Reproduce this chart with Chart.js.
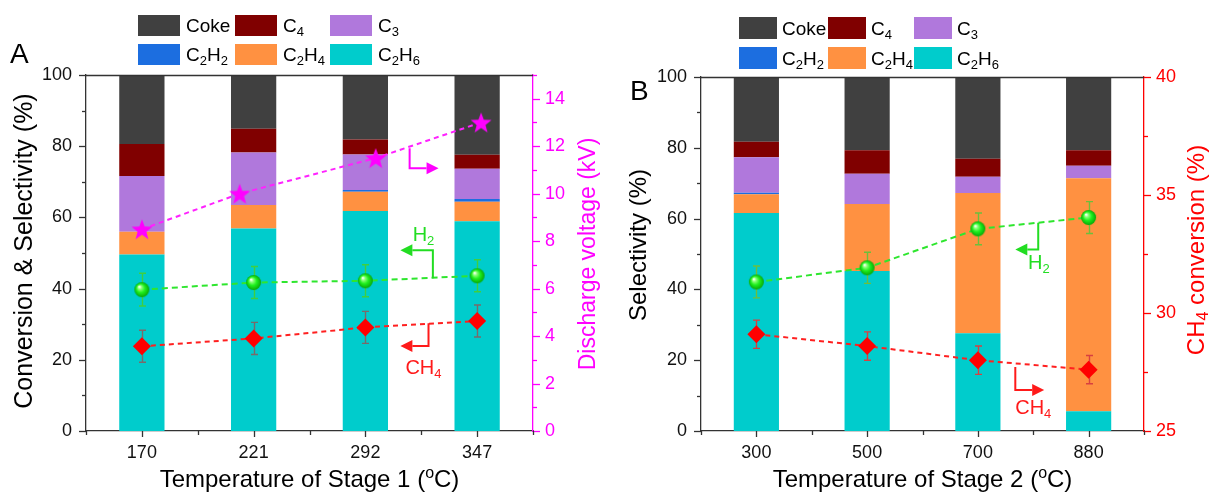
<!DOCTYPE html>
<html>
<head>
<meta charset="utf-8">
<title>Product selectivity vs. stage temperatures</title>
<script src="https://cdn.jsdelivr.net/npm/chart.js@4.4.0/dist/chart.umd.min.js"></script>
<style>
  html, body { margin: 0; padding: 0; background: #fff; }
  #wrap { position: relative; width: 1211px; height: 495px; overflow: hidden; }
  #cA { position: absolute; left: 0; top: 0; }
  #cB { position: absolute; left: 600px; top: 0; }
</style>
</head>
<body>
<div id="wrap">
  <canvas id="cA" width="600" height="495"></canvas>
  <canvas id="cB" width="611" height="495"></canvas>
</div>
<script>
// ---------- Panel A: temperature of stage 1 ----------
const stage1Labels = ['170', '221', '292', '347'];
const stage1Temps = [170, 221, 292, 347];
const cokeA = [19.4, 15.1, 18.1, 22.4];
const c4A   = [9.0, 6.7, 4.2, 3.9];
const c3A   = [15.6, 14.7, 10.0, 8.5];
const c2h2A = [0.0, 0.0, 0.5, 0.8];
const c2h4A = [6.4, 6.6, 5.4, 5.5];
const c2h6A = [49.6, 56.9, 61.8, 58.9];
const h2A      = [39.7, 41.7, 42.2, 43.6];
const h2ErrA   = [4.6, 4.5, 4.5, 4.5];
const ch4A     = [23.8, 26.0, 29.1, 30.9];
const ch4ErrA  = [4.5, 4.5, 4.5, 4.5];
const voltageA = [8.5, 10.0, 11.5, 13.0];

// ---------- Panel B: temperature of stage 2 ----------
const stage2Labels = ['300', '500', '700', '880'];
const cokeB = [18.3, 20.7, 23.1, 20.7];
const c4B   = [4.4, 6.6, 5.1, 4.4];
const c3B   = [10.0, 8.6, 4.6, 3.5];
const c2h2B = [0.4, 0.0, 0.0, 0.0];
const c2h4B = [5.3, 18.9, 39.6, 65.8];
const c2h6B = [61.6, 45.2, 27.6, 5.6];
const h2B     = [42.1, 46.1, 57.1, 60.3];
const h2ErrB  = [4.5, 4.4, 4.5, 4.5];
const ch4B    = [29.1, 28.6, 28.0, 27.6];
const ch4ErrB = [0.6, 0.6, 0.6, 0.6];

// ---------- styling ----------
const FONT = '"Liberation Sans", Arial, Helvetica, sans-serif';
const COLORS = {
  coke: '#404040', c4: '#800000', c3: '#b078dc',
  c2h2: '#1c6ee0', c2h4: '#ff9141', c2h6: '#00cccc'
};
Chart.defaults.font.family = FONT;
Chart.defaults.color = '#111';

// Rich text: Unicode subscript digits become small lowered digits, "°" a raised "o".
function richSegments(str) {
  const subs = '₀₁₂₃₄₅₆₇₈₉';
  const segs = [];
  for (const ch of str) {
    let type = 'n', c = ch;
    const i = subs.indexOf(ch);
    if (i >= 0) { type = 'sub'; c = String(i); }
    else if (ch === '°') { type = 'sup'; c = 'o'; }
    const last = segs[segs.length - 1];
    if (last && last.type === type) last.text += c; else segs.push({ type, text: c });
  }
  return segs;
}
function drawRich(ctx, str, x, y, size, color, align) {
  const segs = richSegments(str);
  const fontFor = t => (t === 'n' ? size : Math.round(size * 0.66)) + 'px ' + FONT;
  let w = 0;
  segs.forEach(s => { ctx.font = fontFor(s.type); s.w = ctx.measureText(s.text).width; w += s.w; });
  let cx = align === 'center' ? x - w / 2 : (align === 'right' ? x - w : x);
  ctx.fillStyle = color;
  ctx.textBaseline = 'alphabetic';
  ctx.textAlign = 'left';
  const base = y + size * 0.36;
  segs.forEach(s => {
    ctx.font = fontFor(s.type);
    let dy = 0;
    if (s.type === 'sub') dy = size * 0.2;
    if (s.type === 'sup') dy = -size * 0.36;
    ctx.fillText(s.text, cx, base + dy);
    cx += s.w;
  });
  return w;
}
function drawRichRotated(ctx, str, x, y, size, color) {
  ctx.save();
  ctx.translate(x, y);
  ctx.rotate(-Math.PI / 2);
  drawRich(ctx, str, 0, 0, size, color, 'center');
  ctx.restore();
}

// Marker images
function makeSphere(r) {
  const s = Math.ceil(2 * r + 2);
  const c = document.createElement('canvas');
  c.width = c.height = s;
  const g = c.getContext('2d');
  const m = s / 2;
  const grad = g.createRadialGradient(m - r * 0.35, m - r * 0.4, r * 0.05, m, m, r);
  grad.addColorStop(0, '#ffffff');
  grad.addColorStop(0.22, '#8dff7a');
  grad.addColorStop(0.55, '#1ef01e');
  grad.addColorStop(1, '#08a808');
  g.fillStyle = grad;
  g.beginPath(); g.arc(m, m, r, 0, Math.PI * 2); g.fill();
  return c;
}
function makeStar(R, color) {
  const s = Math.ceil(2 * R + 2);
  const c = document.createElement('canvas');
  c.width = c.height = s;
  const g = c.getContext('2d');
  const m = s / 2, r = R * 0.42;
  g.fillStyle = color;
  g.beginPath();
  for (let k = 0; k < 10; k++) {
    const rad = k % 2 === 0 ? R : r;
    const a = -Math.PI / 2 + k * Math.PI / 5;
    const px = m + rad * Math.cos(a), py = m + 1 + rad * Math.sin(a);
    if (k === 0) g.moveTo(px, py); else g.lineTo(px, py);
  }
  g.closePath(); g.fill();
  return c;
}
const sphere = makeSphere(7.5);
const star = makeStar(11, '#ff00ff');

function barSet(label, data, color, bp) {
  return {
    type: 'bar', label, data, backgroundColor: color, borderWidth: 0,
    stack: 'selectivity', yAxisID: 'y', order: 3, grouped: false,
    barPercentage: bp, categoryPercentage: 1
  };
}
function barSets(d, bp) {
  return [
    barSet('C₂H₆', d.c2h6, COLORS.c2h6, bp),
    barSet('C₂H₄', d.c2h4, COLORS.c2h4, bp),
    barSet('C₂H₂', d.c2h2, COLORS.c2h2, bp),
    barSet('C₃', d.c3, COLORS.c3, bp),
    barSet('C₄', d.c4, COLORS.c4, bp),
    barSet('Coke', d.coke, COLORS.coke, bp)
  ];
}

// Error bars are drawn just before their series so the markers sit on top.
const errorBarPlugin = {
  id: 'errorBars',
  beforeDatasetDraw(chart, args) {
    const ds = chart.data.datasets[args.index];
    if (!ds.errors) return;
    const meta = args.meta;
    const ys = chart.scales[meta.yAxisID];
    const ctx = chart.ctx;
    ctx.save();
    ctx.strokeStyle = ds.errorColor;
    ctx.lineWidth = 1.4;
    meta.data.forEach((pt, i) => {
      const v = ds.data[i], e = ds.errors[i];
      const top = ys.getPixelForValue(v + e), bot = ys.getPixelForValue(v - e);
      const x = Math.round(pt.x) + 0.5;
      ctx.beginPath();
      ctx.moveTo(x, top); ctx.lineTo(x, bot);
      ctx.moveTo(x - 3.5, top); ctx.lineTo(x + 3.5, top);
      ctx.moveTo(x - 3.5, bot); ctx.lineTo(x + 3.5, bot);
      ctx.stroke();
    });
    ctx.restore();
  }
};

function drawElbow(ctx, pts, color) {
  ctx.save();
  ctx.strokeStyle = color; ctx.fillStyle = color; ctx.lineWidth = 2;
  const n = pts.length;
  const [x1, y1] = pts[n - 2], [x2, y2] = pts[n - 1];
  const ang = Math.atan2(y2 - y1, x2 - x1);
  const head = 12, half = 6;
  const bx = x2 - head * Math.cos(ang), by = y2 - head * Math.sin(ang);
  ctx.beginPath();
  ctx.moveTo(pts[0][0], pts[0][1]);
  for (let i = 1; i < n - 1; i++) ctx.lineTo(pts[i][0], pts[i][1]);
  ctx.lineTo(bx, by);
  ctx.stroke();
  ctx.beginPath();
  ctx.moveTo(x2, y2);
  ctx.lineTo(bx + half * Math.sin(ang), by - half * Math.cos(ang));
  ctx.lineTo(bx - half * Math.sin(ang), by + half * Math.cos(ang));
  ctx.closePath(); ctx.fill();
  ctx.restore();
}

// Frame, tick marks, titles, legend and arrow notes for one panel.
function decorPlugin(spec) {
  return {
    id: 'decor',
    afterDraw(chart) {
      const ctx = chart.ctx, ca = chart.chartArea;
      const xs = chart.scales.x;
      ctx.save();
      // top frame line
      ctx.strokeStyle = '#333'; ctx.lineWidth = 1.3;
      ctx.beginPath(); ctx.moveTo(ca.left, ca.top + 0.5); ctx.lineTo(ca.right, ca.top + 0.5); ctx.stroke();

      // value-axis tick marks (major + minor, pointing outward)
      spec.valueTicks.forEach(t => {
        const s = chart.scales[t.axis];
        const x0 = t.side === 'left' ? ca.left : ca.right;
        const dir = t.side === 'left' ? -1 : 1;
        ctx.strokeStyle = t.color; ctx.lineWidth = 1.3;
        for (let v = t.min; v <= t.max + 1e-9; v += t.minor) {
          const q = v / t.major;
          const isMajor = Math.abs(q - Math.round(q)) < 1e-6;
          const len = isMajor ? 7 : 4;
          const py = Math.round(s.getPixelForValue(v)) + 0.5;
          ctx.beginPath(); ctx.moveTo(x0, py); ctx.lineTo(x0 + dir * len, py); ctx.stroke();
        }
      });
      // category-axis tick marks
      ctx.strokeStyle = '#333'; ctx.lineWidth = 1.3;
      const n = xs.getLabels().length;
      for (let i = 0; i < n; i++) {
        const px = Math.round(xs.getPixelForValue(i)) + 0.5;
        ctx.beginPath(); ctx.moveTo(px, ca.bottom); ctx.lineTo(px, ca.bottom + 6); ctx.stroke();
      }
      for (let i = 0; i <= n; i++) {
        const px = Math.round(xs.getPixelForValue(i - 0.5)) + 0.5;
        ctx.beginPath(); ctx.moveTo(px, ca.bottom); ctx.lineTo(px, ca.bottom + 4); ctx.stroke();
      }

      // axis titles
      drawRichRotated(ctx, spec.leftTitle.text, spec.leftTitle.x, spec.leftTitle.y, spec.leftTitle.size, '#000');
      drawRichRotated(ctx, spec.rightTitle.text, spec.rightTitle.x, spec.rightTitle.y, spec.rightTitle.size, spec.rightTitle.color);
      drawRich(ctx, spec.bottomTitle, (ca.left + ca.right) / 2, spec.bottomTitleY, 24, '#000', 'center');

      // panel letter
      ctx.font = '28px ' + FONT; ctx.fillStyle = '#000';
      ctx.textAlign = 'left'; ctx.textBaseline = 'alphabetic';
      ctx.fillText(spec.letter.text, spec.letter.x, spec.letter.y);

      // legend built from the bar series (top row: Coke, C4, C3)
      const lg = spec.legend;
      const items = chart.data.datasets.filter(d => d.type === 'bar').slice().reverse();
      items.forEach((d, k) => {
        const col = k % 3, row = Math.floor(k / 3);
        const sx = lg.x[col], sy = lg.y[row];
        ctx.fillStyle = d.backgroundColor;
        ctx.fillRect(sx, sy, lg.w, lg.h);
        drawRich(ctx, d.label, sx + lg.w + lg.gap, sy + lg.h / 2, 19, '#000', 'left');
      });

      // arrow notes, placed in data coordinates
      spec.notes.forEach(note => {
        const yScale = chart.scales[note.axis || 'y'];
        const pts = note.path.map(([i, v]) => [xs.getPixelForValue(i), yScale.getPixelForValue(v)]);
        drawElbow(ctx, pts, note.color);
        if (note.label) {
          drawRich(ctx, note.label, xs.getPixelForValue(note.at[0]), yScale.getPixelForValue(note.at[1]),
                   20, note.color, 'center');
        }
      });
      ctx.restore();
    }
  };
}

function baseScales(labels, leftWidth, rightWidth, rightOpts) {
  return {
    x: {
      type: 'category', labels, stacked: true, offset: true,
      grid: { display: false, drawTicks: false },
      border: { display: true, color: '#333', width: 1.3 },
      ticks: { font: { size: 18 }, color: '#111', padding: 11, maxRotation: 0 },
      afterFit: s => { s.height = 64; }
    },
    y: {
      type: 'linear', position: 'left', stacked: true, min: 0, max: 100,
      grid: { display: false, drawTicks: false },
      border: { display: true, color: '#333', width: 1.3 },
      ticks: { stepSize: 20, font: { size: 18 }, color: '#111', padding: 14 },
      afterFit: s => { s.width = leftWidth; }
    },
    yPts: { type: 'linear', display: false, min: 0, max: 100 },
    y2: Object.assign({
      type: 'linear', position: 'right',
      grid: { display: false, drawTicks: false, drawOnChartArea: false },
      afterFit: s => { s.width = rightWidth; }
    }, rightOpts)
  };
}

// ---------- Chart A ----------
new Chart(document.getElementById('cA'), {
  type: 'bar',
  data: {
    labels: stage1Labels,
    datasets: [
      ...barSets({ c2h6: c2h6A, c2h4: c2h4A, c2h2: c2h2A, c3: c3A, c4: c4A, coke: cokeA }, 0.405),
      {
        type: 'line', label: 'H₂', data: h2A, errors: h2ErrA, errorColor: '#3fcf3f',
        yAxisID: 'yPts', borderColor: '#2ee62e', borderDash: [6, 4], borderWidth: 2,
        pointStyle: sphere, pointRadius: 8, fill: false, order: 1
      },
      {
        type: 'line', label: 'CH₄', data: ch4A, errors: ch4ErrA, errorColor: '#7a6a6a',
        yAxisID: 'yPts', borderColor: '#ff2020', borderDash: [5, 4], borderWidth: 2,
        pointStyle: 'rectRot', pointRadius: 9, backgroundColor: '#ff0000',
        pointBackgroundColor: '#ff0000', pointBorderColor: '#ff0000', pointBorderWidth: 0,
        fill: false, order: 1
      },
      {
        type: 'line', label: 'Discharge voltage',
        data: stage1Temps.map((t, i) => ({ x: t, y: voltageA[i] })),
        xAxisID: 'xT', yAxisID: 'y2', borderColor: '#ff22ff', borderDash: [5, 4], borderWidth: 2,
        pointStyle: star, pointRadius: 10, fill: false, order: 0
      }
    ]
  },
  options: {
    responsive: false, animation: false, events: [],
    layout: { padding: { top: 75, left: 0, right: 0, bottom: 0 } },
    plugins: { legend: { display: false }, tooltip: { enabled: false } },
    scales: Object.assign(baseScales(stage1Labels, 86, 67, {
      min: 0, max: 15,
      border: { display: true, color: '#ff00ff', width: 1.3 },
      ticks: { stepSize: 2, includeBounds: false, font: { size: 18 }, color: '#ff00ff', padding: 12 }
    }), {
      xT: { type: 'linear', display: false, offset: false, min: 140.8, max: 374.1 }
    })
  },
  plugins: [errorBarPlugin, decorPlugin({
    valueTicks: [
      { axis: 'y', side: 'left', min: 0, max: 100, major: 20, minor: 10, color: '#333' },
      { axis: 'y2', side: 'right', min: 0, max: 15, major: 2, minor: 1, color: '#ff00ff' }
    ],
    leftTitle: { text: 'Conversion & Selectivity (%)', x: 23, y: 251, size: 25 },
    rightTitle: { text: 'Discharge voltage (kV)', x: 587, y: 254, color: '#ff00ff', size: 23 },
    bottomTitle: 'Temperature of Stage 1 (°C)', bottomTitleY: 478,
    letter: { text: 'A', x: 10, y: 63 },
    legend: { x: [138, 235, 330], y: [15, 44], w: 42, h: 21, gap: 6 },
    notes: [
      { color: '#ff00ff', path: [[2.396, 79.4], [2.396, 73.8], [2.655, 73.8]] },
      { color: '#22dd22', path: [[2.604, 42.9], [2.604, 50.8], [2.313, 50.8]], label: 'H₂', at: [2.52, 55.3] },
      { color: '#ff1a1a', path: [[2.565, 30.3], [2.565, 23.9], [2.313, 23.9]], label: 'CH₄', at: [2.52, 18.1] }
    ]
  })]
});

// ---------- Chart B ----------
new Chart(document.getElementById('cB'), {
  type: 'bar',
  data: {
    labels: stage2Labels,
    datasets: [
      ...barSets({ c2h6: c2h6B, c2h4: c2h4B, c2h2: c2h2B, c3: c3B, c4: c4B, coke: cokeB }, 0.408),
      {
        type: 'line', label: 'H₂', data: h2B, errors: h2ErrB, errorColor: '#6cbf3c',
        yAxisID: 'yPts', borderColor: '#2ee62e', borderDash: [6, 4], borderWidth: 2,
        pointStyle: sphere, pointRadius: 8, fill: false, order: 1
      },
      {
        type: 'line', label: 'CH₄', data: ch4B, errors: ch4ErrB, errorColor: '#d84040',
        yAxisID: 'y2', borderColor: '#ff2020', borderDash: [5, 4], borderWidth: 2,
        pointStyle: 'rectRot', pointRadius: 9, backgroundColor: '#ff0000',
        pointBackgroundColor: '#ff0000', pointBorderColor: '#ff0000', pointBorderWidth: 0,
        fill: false, order: 1
      }
    ]
  },
  options: {
    responsive: false, animation: false, events: [],
    layout: { padding: { top: 77, left: 0, right: 0, bottom: 0 } },
    plugins: { legend: { display: false }, tooltip: { enabled: false } },
    scales: baseScales(stage2Labels, 101, 67, {
      min: 25, max: 40,
      border: { display: true, color: '#ff0000', width: 1.3 },
      ticks: { stepSize: 5, includeBounds: false, font: { size: 18 }, color: '#ff0000', padding: 12 }
    })
  },
  plugins: [errorBarPlugin, decorPlugin({
    valueTicks: [
      { axis: 'y', side: 'left', min: 0, max: 100, major: 20, minor: 10, color: '#333' },
      { axis: 'y2', side: 'right', min: 25, max: 40, major: 5, minor: 2.5, color: '#ff0000' }
    ],
    leftTitle: { text: 'Selectivity (%)', x: 37, y: 245, size: 24 },
    rightTitle: { text: 'CH₄ conversion (%)', x: 595, y: 250, color: '#ff0000', size: 24 },
    bottomTitle: 'Temperature of Stage 2 (°C)', bottomTitleY: 478,
    letter: { text: 'B', x: 30, y: 100 },
    legend: { x: [139, 228, 314], y: [17, 47], w: 38, h: 22, gap: 5 },
    notes: [
      { color: '#22dd22', path: [[2.545, 58.8], [2.545, 51.3], [2.338, 51.3]], label: 'H₂', at: [2.55, 47.8] },
      { color: '#ff1a1a', path: [[2.338, 18.1], [2.338, 11.6], [2.599, 11.6]], label: 'CH₄', at: [2.5, 6.9] }
    ]
  })]
});
</script>
</body>
</html>
